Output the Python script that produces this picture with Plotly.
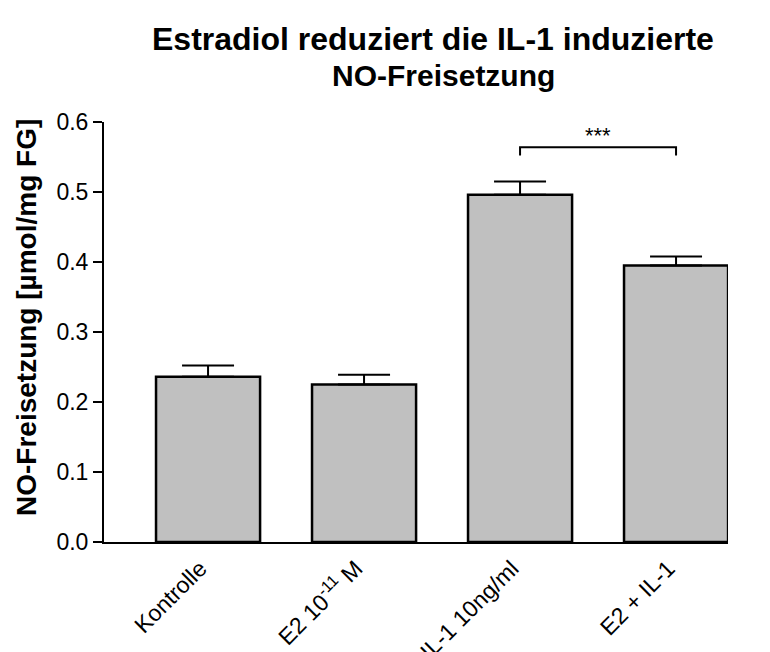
import plotly.graph_objects as go

categories = ["Kontrolle", "E2 10-11 M", "IL-1 10ng/ml", "E2 + IL-1"]
tick_labels = ["Kontrolle", "E2 10<sup>-11</sup> M", "IL-1 10ng/ml", "E2 + IL-1"]
means = [0.236, 0.225, 0.496, 0.395]
sem = [0.016, 0.014, 0.019, 0.013]

sig_pair = (2, 3)
sig_y = 0.564
sig_drop = 0.012
sig_label = "***"

title_lines = ["Estradiol reduziert die IL-1 induzierte", "NO-Freisetzung"]
y_title = "NO-Freisetzung [µmol/mg FG]"

FONT = "Liberation Sans, Arial, Helvetica, sans-serif"
W, H = 770, 652
L, R, T, B = 104, 42, 122, 110
PW, PH = W - L - R, H - T - B

fig = go.Figure()
fig.add_trace(go.Bar(
    x=list(range(len(categories))),
    y=means,
    width=0.667,
    marker=dict(color="#c0c0c0", line=dict(color="black", width=2.5)),
    error_y=dict(type="data", symmetric=False, array=sem,
                 arrayminus=[0] * len(sem), color="black",
                 thickness=2, width=26),
    hovertext=categories,
    showlegend=False,
))

x0, x1 = sig_pair
fig.add_shape(type="path",
              path=f"M {x0},{sig_y - sig_drop} L {x0},{sig_y} L {x1},{sig_y} L {x1},{sig_y - sig_drop}",
              xref="x", yref="y", line=dict(color="black", width=2))
fig.add_annotation(x=(x0 + x1) / 2, y=sig_y, xref="x", yref="y",
                   text=sig_label, showarrow=False, yanchor="bottom", yshift=-3,
                   font=dict(family=FONT, size=22, color="black"))

# y-axis title
fig.add_annotation(text=f"<b>{y_title}</b>", textangle=-90,
                   xref="paper", yref="paper",
                   x=(26 - L) / PW, y=(H - B - 318) / PH,
                   xanchor="center", yanchor="middle",
                   showarrow=False, font=dict(family=FONT, size=28, color="black"))

# title lines
for txt, cx, cy, fs in [(title_lines[0], 433, 39, 32), (title_lines[1], 443, 76, 30)]:
    fig.add_annotation(text=f"<b>{txt}</b>", xref="paper", yref="paper",
                       x=(cx - L) / PW, y=(H - B - cy) / PH,
                       xanchor="center", yanchor="middle", showarrow=False,
                       font=dict(family=FONT, size=fs, color="black"))

fig.update_layout(
    width=W, height=H,
    margin=dict(l=L, r=R, t=T, b=B, autoexpand=False),
    paper_bgcolor="white", plot_bgcolor="white",
    font=dict(family=FONT, color="black"),
    bargap=0.333,
)
fig.update_xaxes(range=[-0.667, 3.333], tickmode="array",
                 tickvals=list(range(len(categories))), ticktext=tick_labels,
                 tickangle=-45, showline=True, linecolor="black", linewidth=2,
                 ticks="", showgrid=False, zeroline=False, automargin=False,
                 ticklabelshift=-8, ticklabelstandoff=2,
                 tickfont=dict(family=FONT, size=23, color="black"))
fig.update_yaxes(range=[0, 0.6], tickmode="array",
                 tickvals=[0, 0.1, 0.2, 0.3, 0.4, 0.5, 0.6],
                 ticktext=["0.0", "0.1", "0.2", "0.3", "0.4", "0.5", "0.6"],
                 showline=True, linecolor="black", linewidth=2,
                 ticks="outside", ticklen=9, tickwidth=2, tickcolor="black",
                 showgrid=False, zeroline=False, automargin=False,
                 tickfont=dict(family=FONT, size=23, color="black"))

fig.write_html("out.html", config={"displayModeBar": False},
               post_script="document.body.style.margin='0';document.body.style.padding='0';")
